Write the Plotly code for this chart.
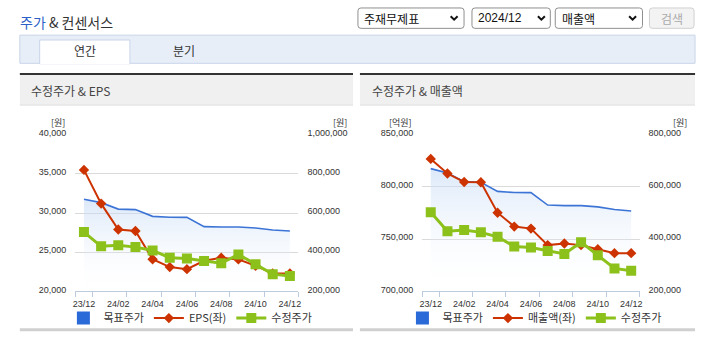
import plotly.graph_objects as go

# ---------------- data ----------------
months = ["23/12", "24/01", "24/02", "24/03", "24/04", "24/05", "24/06",
          "24/07", "24/08", "24/09", "24/10", "24/11", "24/12"]
tick_labels = ["23/12", "24/02", "24/04", "24/06", "24/08", "24/10", "24/12"]
target_price = [670000, 653000, 620000, 617500, 583000, 578500, 578000,
                530500, 528500, 528500, 523500, 513500, 508000]
adj_price = [503000, 430000, 435000, 426000, 409000, 372000, 368000,
             355000, 343500, 388500, 338500, 288000, 279000]
eps = [35500, 31200, 27900, 27700, 24100, 23100, 22840,
       23900, 24290, 24080, 23280, 22280, 22300]
sales = [826800, 812800, 804700, 804400, 775300, 762000, 760100,
         744300, 745900, 744300, 740300, 736600, 736600]

W, H = 705, 341
def px(x): return x / W
def py(y): return 1 - y / H

BLUE = "#3c74d6"
RED = "#cc3300"
GREEN = "#8cc11b"
AXC = "#bccbdd"
GRID = "#dadada"
TXT = "#333333"
NUMF = "Liberation Sans, Noto Sans CJK KR"
KRF = "Noto Sans CJK KR"

xi = list(range(len(months)))
fill_grad = dict(type="vertical", start=200000, stop=670000,
                 colorscale=[[0, "rgba(255,255,255,0)"], [1, "rgba(188,212,244,0.5)"]])

fig = go.Figure()

charts = [
    ("x", "y", "y2", "y3", eps, "EPS(좌)", "legend"),
    ("x2", "y4", "y5", "y6", sales, "매출액(좌)", "legend2"),
]
for xa, yp, yl, yd, left_vals, left_name, lg in charts:
    fig.add_trace(go.Scatter(x=[None], y=[None], mode="markers", name="목표주가",
                             marker=dict(symbol="square", size=13, color="#2a6ad8"),
                             xaxis=xa, yaxis=yp, legend=lg, showlegend=True))
    fig.add_trace(go.Scatter(x=xi, y=target_price, mode="lines", name="목표주가",
                             line=dict(color=BLUE, width=1.6), fill="tozeroy",
                             fillgradient=fill_grad, showlegend=False,
                             xaxis=xa, yaxis=yp, hoverinfo="skip"))
    fig.add_trace(go.Scatter(x=xi, y=left_vals, mode="lines+markers", name=left_name,
                             line=dict(color=RED, width=2),
                             marker=dict(symbol="diamond", size=8, color=RED),
                             xaxis=xa, yaxis=yl, legend=lg))
    fig.add_trace(go.Scatter(x=xi, y=adj_price, mode="lines+markers", name="수정주가",
                             line=dict(color=GREEN, width=3),
                             marker=dict(symbol="square", size=10, color=GREEN),
                             xaxis=xa, yaxis=yd, legend=lg))

def xaxis_cfg(dom, anchor):
    return dict(domain=dom, anchor=anchor, range=[-0.5, 12.5],
                tickmode="array", tickvals=xi[::2], ticktext=tick_labels,
                ticks="", showline=True, linecolor=AXC, linewidth=1,
                showgrid=False, zeroline=False, fixedrange=True,
                ticklabelstandoff=4,
                tickfont=dict(family=NUMF, size=9, color=TXT),
                minor=dict(tickmode="array",
                           tickvals=[-0.5, 0.5, 2.5, 4.5, 6.5, 8.5, 10.5, 12.5],
                           ticks="outside", ticklen=5, tickcolor=AXC, tickwidth=1,
                           showgrid=False))

ydom = [py(293), py(131.5)]
price_axis = dict(range=[200000, 1000000], dtick=200000, tick0=200000,
                  tickformat=",d", side="right", showgrid=True, gridcolor=GRID,
                  gridwidth=1, zeroline=False, showline=False, ticks="",
                  ticklabelstandoff=8, ticklabelshift=-2,
                  tickfont=dict(family=NUMF, size=9, color=TXT), fixedrange=True)
price_axis_r = dict(price_axis, range=[200000, 800000], dtick=200000)
left_common = dict(tickformat=",d", side="left", showgrid=False, zeroline=False,
                   ticks="", ticklabelstandoff=8, ticklabelshift=-2,
                   tickfont=dict(family=NUMF, size=9, color=TXT), fixedrange=True)

legend_common = dict(orientation="h", xanchor="center", y=py(320.5), yanchor="middle",
                     font=dict(family=KRF, size=11, color=TXT), itemwidth=30,
                     bgcolor="rgba(0,0,0,0)", tracegroupgap=0)

fig.update_layout(
    width=W, height=H, margin=dict(l=0, r=0, t=0, b=0),
    paper_bgcolor="white", plot_bgcolor="rgba(0,0,0,0)",
    showlegend=True,
    xaxis=xaxis_cfg([px(73), px(298)], "y"),
    yaxis=dict(price_axis, domain=ydom, anchor="x"),
    yaxis2=dict(left_common, range=[20000, 40000], dtick=5000,
                overlaying="y", anchor="x"),
    yaxis3=dict(range=[200000, 1000000], overlaying="y", anchor="x", visible=False,
                fixedrange=True),
    xaxis2=xaxis_cfg([px(423), px(642)], "y4"),
    yaxis4=dict(price_axis_r, domain=ydom, anchor="x2"),
    yaxis5=dict(left_common, range=[700000, 850000], dtick=50000,
                overlaying="y4", anchor="x2"),
    yaxis6=dict(range=[200000, 800000], overlaying="y4", anchor="x2", visible=False,
                fixedrange=True),
    legend=dict(legend_common, x=px(189)),
    legend2=dict(legend_common, x=px(536)),
)

# ---------------- page decorations ----------------
shapes = []
def rect(x0, y0, x1, y1, fill, line=None, lw=0):
    shapes.append(dict(type="rect", xref="paper", yref="paper",
                       x0=px(x0), x1=px(x1), y0=py(y1), y1=py(y0),
                       fillcolor=fill, line=dict(color=line or fill, width=lw),
                       layer="below"))

def rrect(x0, y0, x1, y1, r, fill, line, lw=1):
    X = lambda v: f"{px(v):.5f}"
    Y = lambda v: f"{py(v):.5f}"
    p = (f"M {X(x0+r)},{Y(y0)} L {X(x1-r)},{Y(y0)} Q {X(x1)},{Y(y0)} {X(x1)},{Y(y0+r)} "
         f"L {X(x1)},{Y(y1-r)} Q {X(x1)},{Y(y1)} {X(x1-r)},{Y(y1)} "
         f"L {X(x0+r)},{Y(y1)} Q {X(x0)},{Y(y1)} {X(x0)},{Y(y1-r)} "
         f"L {X(x0)},{Y(y0+r)} Q {X(x0)},{Y(y0)} {X(x0+r)},{Y(y0)} Z")
    shapes.append(dict(type="path", xref="paper", yref="paper", path=p,
                       fillcolor=fill, line=dict(color=line, width=lw), layer="below"))

def chevron(cx, cy):
    X = lambda v: f"{px(v):.5f}"
    Y = lambda v: f"{py(v):.5f}"
    p = f"M {X(cx-3.5)},{Y(cy-2)} L {X(cx)},{Y(cy+1.5)} L {X(cx+3.5)},{Y(cy-2)}"
    shapes.append(dict(type="path", xref="paper", yref="paper", path=p,
                       line=dict(color="#111111", width=2), layer="above"))

rect(17, 29, 698, 58, "#e7eef8", "#c8d5e8", 1)
rect(37, 34, 128, 58.5, "#ffffff", "#c8d5e8", 1)
rect(37.5, 57.5, 127.5, 59, "#ffffff")
rrect(358, 1, 465, 22, 3, "#ffffff", "#8f8f8f")
rrect(473, 1, 552, 22, 3, "#ffffff", "#8f8f8f")
rrect(557, 1, 645, 22, 3, "#ffffff", "#8f8f8f")
rrect(652, 1, 697, 22, 3, "#f3f3f3", "#d0d0d0")
chevron(455, 11.5)
chevron(543, 11.5)
chevron(635, 11.5)
for x0, x1 in [(17, 353), (360, 698)]:
    rect(x0, 70, x1, 100.5, "#f0f0f0")
    rect(x0, 100.5, x1, 101.5, "#d9d9d9")
    rect(x0, 68, x1, 70, "#333333")
    rect(x0, 331, x1, 334, "#d0d0d0")

fig.update_layout(shapes=shapes)

ann = []
def text(t, x, y, size=12, color=TXT, anchor="left", family=KRF):
    ann.append(dict(text=t, x=px(x), y=py(y), xref="paper", yref="paper",
                    xanchor=anchor, yanchor="middle", showarrow=False,
                    borderpad=0,
                    font=dict(family=family, size=size, color=color)))

text("<span style='color:#2b5fc9'>주가</span> & 컨센서스", 16, 15, size=14)
text("연간", 83, 45, size=12, anchor="center")
text("분기", 183, 45, size=12, anchor="center")
text("수정주가 & EPS", 27, 86, size=12, color="#444444")
text("수정주가 & 매출액", 371, 86, size=12, color="#444444")
text("주재무제표", 363, 11.5, size=12, color="#111111")
text("2024/12", 478, 11.5, size=12, color="#111111", family=NUMF)
text("매출액", 563, 11.5, size=12, color="#111111")
text("검색", 674.5, 11.5, size=12, color="#aaaaaa", anchor="center")
text("[원]", 64, 119, size=9, anchor="right")
text("[원]", 348, 119, size=9, anchor="right")
text("[억원]", 414, 119, size=9, anchor="right")
text("[원]", 691, 119, size=9, anchor="right")
fig.update_layout(annotations=ann)

fig.write_html("out.html")
